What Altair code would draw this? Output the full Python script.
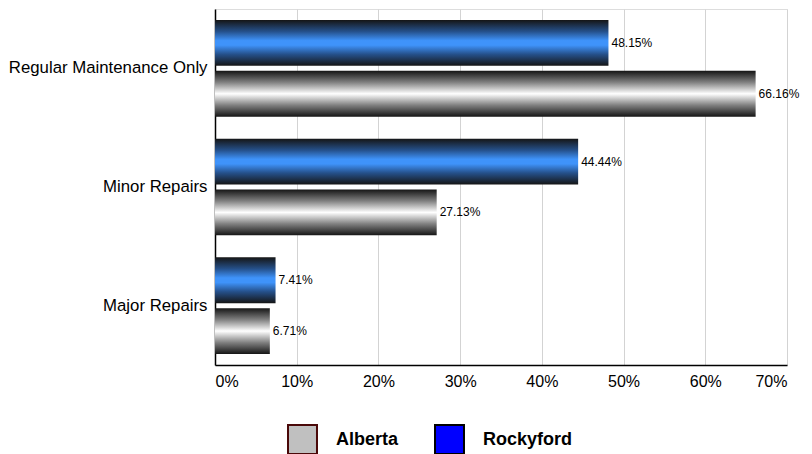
import altair as alt
import pandas as pd

categories = ["Regular Maintenance Only", "Minor Repairs", "Major Repairs"]
series_order = ["Rockyford", "Alberta"]
legend_order = ["Alberta", "Rockyford"]
rockyford = [48.15, 44.44, 7.41]
alberta = [66.16, 27.13, 6.71]
x_ticks = [0, 0.1, 0.2, 0.3, 0.4, 0.5, 0.6, 0.7]

rows = []
for i, c in enumerate(categories):
    rows.append({"category": c, "series": "Rockyford", "value": rockyford[i] / 100})
    rows.append({"category": c, "series": "Alberta", "value": alberta[i] / 100})
df = pd.DataFrame(rows)

FONT = "Liberation Sans"

blue_grad = alt.Gradient(
    gradient="linear", x1=0, x2=0, y1=0, y2=1,
    stops=[
        alt.GradientStop(color="#151515", offset=0),
        alt.GradientStop(color="#25508a", offset=0.25),
        alt.GradientStop(color="#3f93fa", offset=0.45),
        alt.GradientStop(color="#3f93fa", offset=0.55),
        alt.GradientStop(color="#25508a", offset=0.75),
        alt.GradientStop(color="#151515", offset=1),
    ],
)
grey_grad = alt.Gradient(
    gradient="linear", x1=0, x2=0, y1=0, y2=1,
    stops=[
        alt.GradientStop(color="#151515", offset=0),
        alt.GradientStop(color="#808080", offset=0.25),
        alt.GradientStop(color="#ffffff", offset=0.5),
        alt.GradientStop(color="#808080", offset=0.75),
        alt.GradientStop(color="#151515", offset=1),
    ],
)

y_enc = alt.Y(
    "category:N", sort=categories, title=None,
    scale=alt.Scale(paddingInner=0, paddingOuter=0),
    axis=alt.Axis(labelFontSize=16.8, labelColor="#000000", labelPadding=8, labelLimit=0,
                  ticks=False, domainColor="#000000", domainWidth=1.5,
                  labelFont=FONT, grid=False),
)
yoff_enc = alt.YOffset(
    "series:N", sort=series_order,
    scale=alt.Scale(domain=series_order, paddingInner=0.098, paddingOuter=0.216),
)
x_enc = alt.X(
    "value:Q", title=None,
    scale=alt.Scale(domain=[0, 0.7], nice=False, zero=True),
    axis=alt.Axis(format=".0%", values=x_ticks, labelFontSize=16, labelColor="#000000",
                  labelPadding=8, ticks=False, domainColor="#000000", domainWidth=1.5,
                  grid=True, gridColor="#d3d3d3", labelFont=FONT),
)

base = alt.Chart(df)

bars_blue = base.transform_filter(alt.datum.series == "Rockyford").mark_bar(
    fill=blue_grad, cornerRadius=0
).encode(x=x_enc, y=y_enc, yOffset=yoff_enc)

bars_grey = base.transform_filter(alt.datum.series == "Alberta").mark_bar(
    fill=grey_grad, cornerRadius=0
).encode(x=x_enc, y=y_enc, yOffset=yoff_enc)

labels = base.mark_text(
    align="left", baseline="middle", dx=3, fontSize=12, font=FONT, color="#000000"
).encode(x=x_enc, y=y_enc, yOffset=yoff_enc, text=alt.Text("value:Q", format=".2%"))

leg = alt.Legend(
    title=None, orient="none", legendX=72, legendY=415, direction="horizontal",
    symbolType="square", symbolSize=840, symbolStrokeWidth=2, symbolOpacity=1,
    labelFontSize=18, labelFontWeight="bold", labelFont=FONT, labelColor="#000000",
    labelOffset=18, columnPadding=32,
)
legend_layer = base.mark_point(shape="square", filled=True, opacity=0).encode(
    x=x_enc, y=y_enc, yOffset=yoff_enc,
    fill=alt.Fill("series:N", sort=legend_order,
                  scale=alt.Scale(domain=legend_order, range=["#c0c0c0", "#0000ff"]),
                  legend=leg),
    stroke=alt.Stroke("series:N", sort=legend_order,
                      scale=alt.Scale(domain=legend_order, range=["#4a0808", "#000000"]),
                      legend=leg),
)

chart = alt.layer(bars_blue, bars_grey, labels, legend_layer).properties(
    width=572, height=356,
    autosize=alt.AutoSizeParams(type="none"),
    padding={"left": 207, "top": 1, "right": 17, "bottom": 89},
).configure_view(stroke="#999999", strokeWidth=1).configure(font=FONT)

chart.save("out.html", embed_options={"renderer": "svg", "actions": False})
